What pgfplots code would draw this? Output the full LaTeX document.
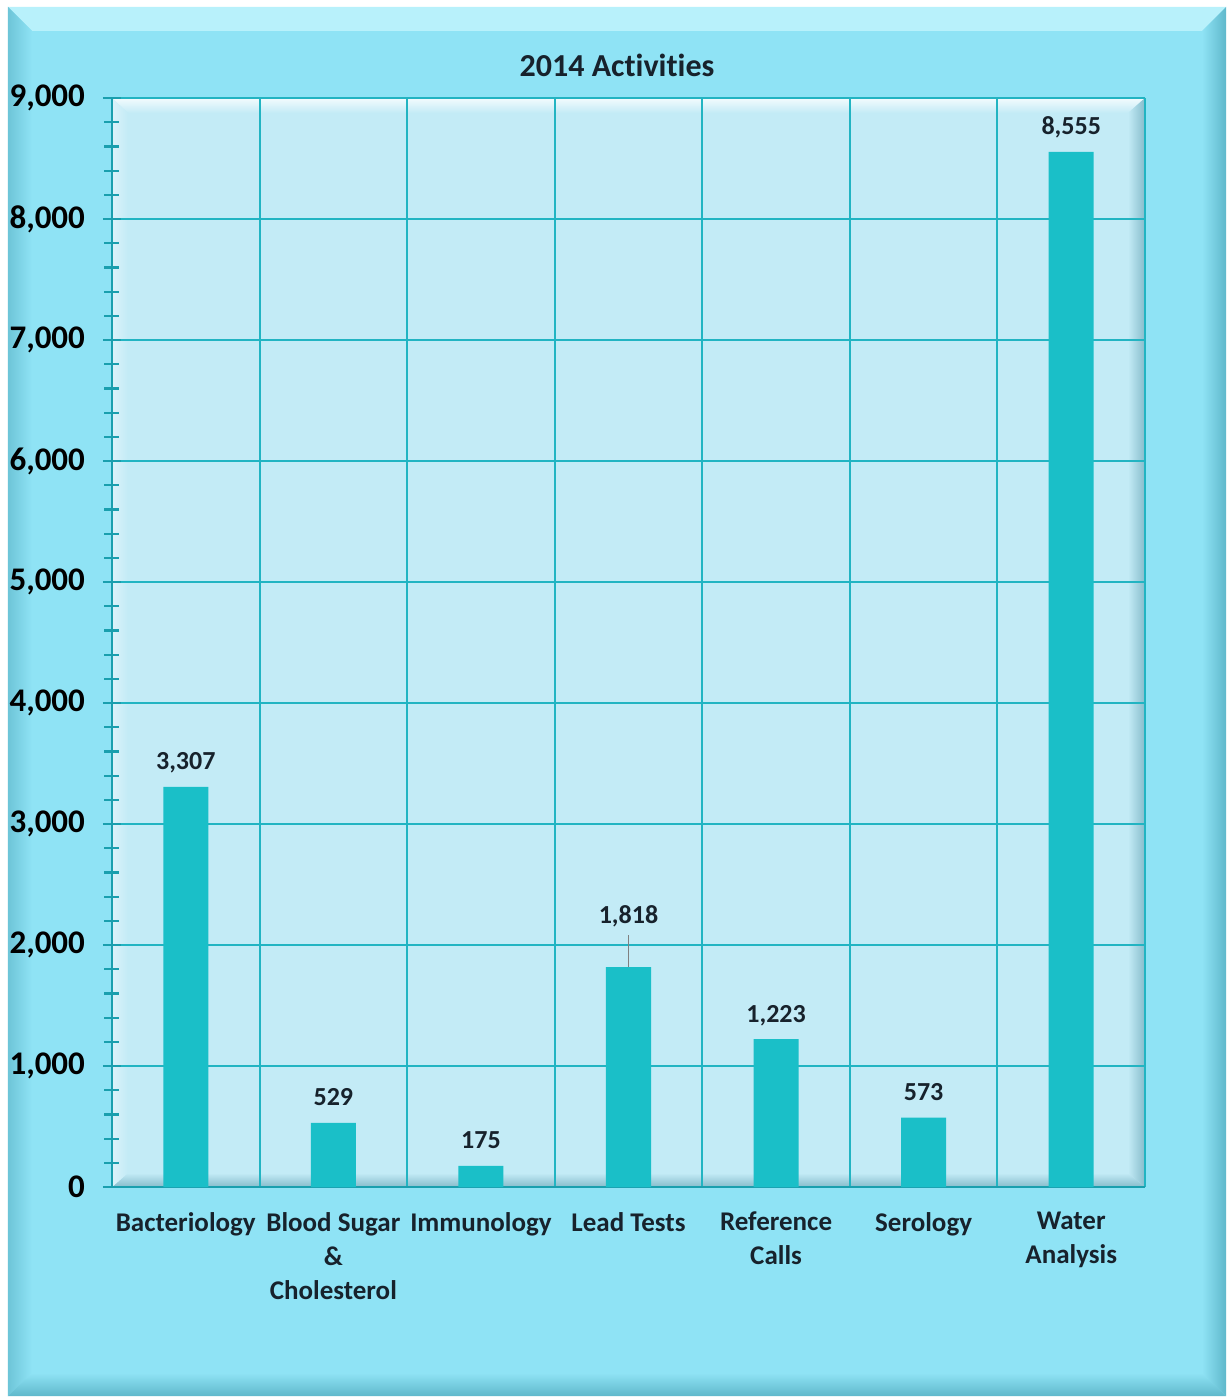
\documentclass[border=0pt]{standalone}
\usepackage{pgfplots}
\pgfplotsset{compat=1.18}
\usepackage{fontspec}
\setmainfont[Ligatures=NoCommon]{Carlito}

\definecolor{framefill}{HTML}{8FE3F5}
\definecolor{framelight}{HTML}{B8F1FB}
\definecolor{framedark}{HTML}{5FB8CB}
\definecolor{plotbg}{HTML}{C3EBF6}
\definecolor{plotedge}{HTML}{86BCCB}
\definecolor{gridteal}{HTML}{22B4C2}
\definecolor{axisteal}{HTML}{1A9FAE}
\definecolor{barteal}{HTML}{1ABFC8}
\definecolor{labeltext}{HTML}{17222C}

% value labels: x, count, baseline offset of the label above the bar (pt)
\pgfplotstableread{
x  y     off
0  3307  8.5
1  529   8.5
2  175   8.5
3  1818  22
4  1223  8.5
5  573   8.5
6  8555  8.5
}\activities

\begin{document}
\begin{tikzpicture}
% page and bevelled frame
\useasboundingbox (-56pt,-106pt) rectangle (558pt,593.5pt);
\fill[white] (-56pt,-106pt) rectangle (558pt,593.5pt);
\fill[framefill] (-52pt,-104.5pt) rectangle (557pt,590pt);
\fill[framelight] (-52pt,590pt) -- (557pt,590pt) -- (545pt,578pt) -- (-40pt,578pt) -- cycle;
\shade[left color=framedark!70!framefill, right color=framefill] (-52pt,590pt) -- (-40pt,578pt) -- (-40pt,-93pt) -- (-52pt,-104.5pt) -- cycle;
\shade[left color=framefill, right color=framedark] (557pt,590pt) -- (545pt,578pt) -- (545pt,-93pt) -- (557pt,-104.5pt) -- cycle;
\shade[top color=framefill, bottom color=framedark] (-52pt,-104.5pt) -- (-40pt,-93pt) -- (545pt,-93pt) -- (557pt,-104.5pt) -- cycle;

% plot area with its inner bevel
\fill[plotbg] (0pt,0pt) rectangle (516.5pt,544.5pt);
\shade[top color=white!80!plotbg, bottom color=plotbg] (0pt,544.5pt) -- (516.5pt,544.5pt) -- (508pt,537pt) -- (8pt,537pt) -- cycle;
\shade[left color=plotbg, right color=plotedge] (516.5pt,544.5pt) -- (508pt,537pt) -- (508pt,7pt) -- (516.5pt,0pt) -- cycle;
\shade[top color=plotbg, bottom color=plotedge] (0pt,0pt) -- (8pt,7pt) -- (508pt,7pt) -- (516.5pt,0pt) -- cycle;
\shade[left color=white!40!plotbg, right color=plotbg] (0pt,0pt) -- (8pt,7pt) -- (8pt,537pt) -- (0pt,544.5pt) -- cycle;

\node[font=\bfseries\fontsize{16}{18}\selectfont, text=labeltext] at (252.5pt,561pt) {2014 Activities};

\begin{axis}[
  at={(0pt,0pt)}, anchor=south west,
  scale only axis, width=516.5pt, height=544.5pt,
  xmin=-0.5, xmax=6.5, ymin=0, ymax=9000,
  axis background/.style={fill=none},
  axis x line*=bottom, axis y line*=left,
  axis line style={axisteal, line width=1.2pt},
  xtick={-0.5,0.5,...,6.5}, xticklabels={},
  major x tick style={draw=none},
  xmajorgrids,
  extra x ticks={0,...,6},
  extra x tick labels={Bacteriology,Blood Sugar\\\&\\Cholesterol,Immunology,Lead Tests,Reference\\Calls,Serology,Water\\Analysis},
  extra x tick style={grid=none, major tick length=0pt,
    tick label style={align=center, yshift=-9pt,
      font=\bfseries\fontsize{13.5}{17}\selectfont, text=labeltext}},
  ytick={0,1000,...,9000},
  minor y tick num=4,
  ymajorgrids,
  grid style={gridteal, line width=1pt},
  tick align=center,
  major tick length=9pt, minor tick length=7.5pt,
  every tick/.style={axisteal, line width=1.1pt},
  yticklabel style={font=\bfseries\fontsize{16.5}{18}\selectfont, xshift=-5.5pt, text=black},
  /pgf/number format/.cd, 1000 sep={,}, assume math mode=true,
]
% leader line of the Lead Tests label
\addplot[gray, line width=0.8pt] coordinates {(3,1818) (3,2080)};
\addplot[ybar, bar width=22.5pt, fill=barteal, draw=none,
  nodes near coords,
  visualization depends on={\thisrow{off}\as\off},
  every node near coord/.append style={anchor=base, yshift=\off pt, text=labeltext,
    font=\bfseries\fontsize{13}{15}\selectfont,
    /pgf/number format/.cd, 1000 sep={,}, assume math mode=true},
] table[x=x, y=y] {\activities};
\end{axis}
\end{tikzpicture}
\end{document}
